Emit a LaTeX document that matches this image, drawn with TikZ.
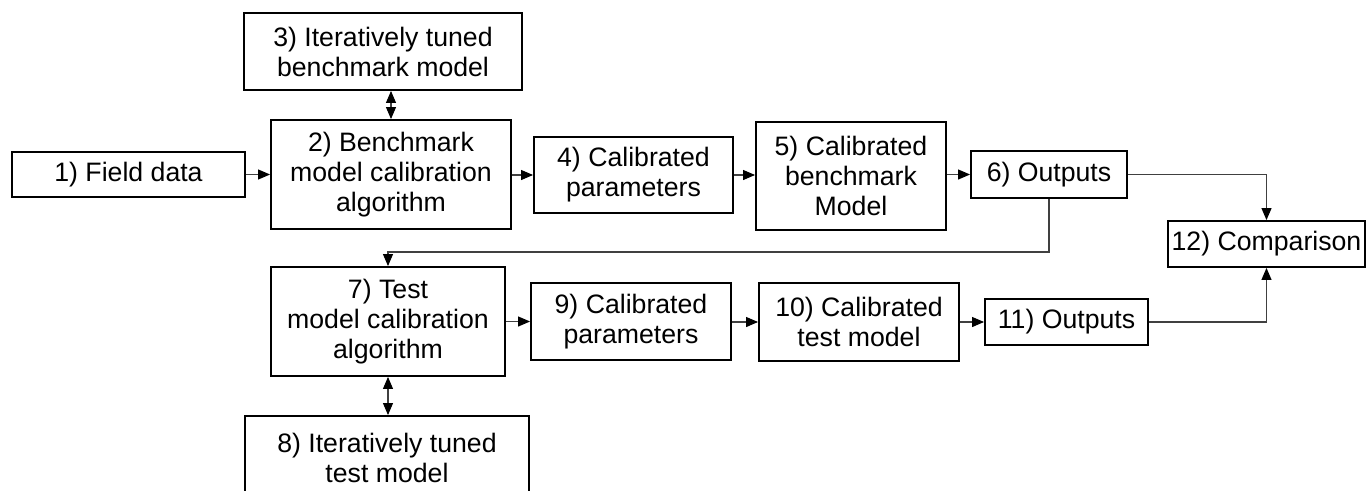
\documentclass[tikz,border=0pt]{standalone}
\usepackage{fontspec}
\setmainfont{Liberation Sans}
\usetikzlibrary{arrows.meta}
\begin{document}
\begin{tikzpicture}[x=0.75pt,y=-0.75pt,
  box/.style 2 args={draw=black, line width=1.4pt, rectangle, inner sep=0pt,
    align=center, minimum width=#1*0.75pt, minimum height=#2*0.75pt,
    font=\fontsize{20}{22.5}\selectfont},
  tip/.tip={Triangle[length=9pt,width=7.5pt,color=black]},
  link/.style={draw=black!75, line width=0.8pt, -tip},
  twoway/.style={draw=black!75, line width=0.8pt, tip-tip}
]
\useasboundingbox (0,0) rectangle (1372,490);

% upper chain: benchmark model
\node[box={233}{45}]  (n1)  at (128.5,174.5) {1) Field data};
\node[box={240}{109}] (n2)  at (391,174.5)   {2) Benchmark\\model calibration\\algorithm};
\node[box={278}{77}]  (n3)  at (383,51.5)    {3) Iteratively tuned\\benchmark model};
\node[box={199}{76}]  (n4)  at (633.5,175)   {4) Calibrated\\parameters};
\node[box={190}{108}] (n5)  at (851,176)     {5) Calibrated\\benchmark\\Model};
\node[box={156}{47}]  (n6)  at (1049,174.5)  {6) Outputs};
\node[box={197}{46}]  (n12) at (1266.5,244)  {12) Comparison};

% lower chain: test model
\node[box={234}{109}] (n7)  at (388,321.5)   {7) Test\\model calibration\\algorithm};
\node[box={284}{84}]  (n8)  at (387,458)     {8) Iteratively tuned\\test model};
\node[box={200}{77}]  (n9)  at (631,321.5)   {9) Calibrated\\parameters};
\node[box={200}{78}]  (n10) at (859,322)     {10) Calibrated\\test model};
\node[box={163}{46}]  (n11) at (1066.5,322)  {11) Outputs};

\coordinate (split) at (1049,252);

% connectors
\draw[link] (n1.east) -- (n1.east -| n2.west);
\draw[twoway] (n2.north) -- (n2.north |- n3.south);
\draw[link] (n2.east |- n4.west) -- (n4.west);
\draw[link] (n4.east) -- (n4.east -| n5.west);
\draw[link] (n5.east |- n6.west) -- (n6.west);
\draw[link] (n6.east) -| (n12.north);
\draw[link] (n6.south) -- (split) -| (n7.north);

\draw[twoway] (n7.south) -- (n7.south |- n8.north);
\draw[link] (n7.east |- n9.west) -- (n9.west);
\draw[link] (n9.east |- n10.west) -- (n10.west);
\draw[link] (n10.east |- n11.west) -- (n11.west);
\draw[link] (n11.east) -| (n12.south);
\end{tikzpicture}
\end{document}
